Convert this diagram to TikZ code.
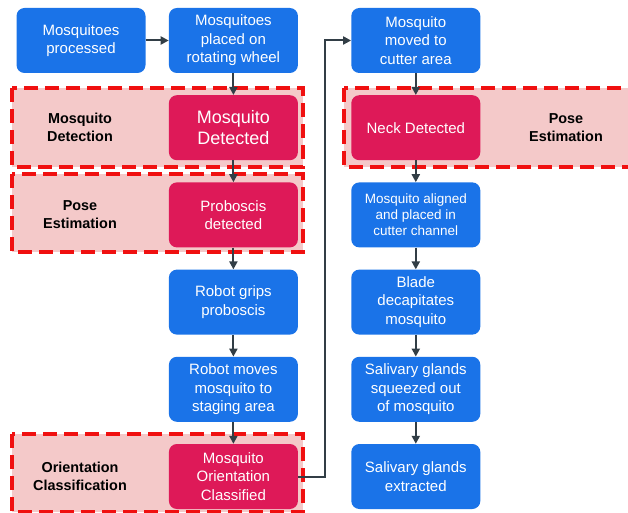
\documentclass[tikz,border=0pt]{standalone}
\usepackage{fontspec}
\setmainfont{Liberation Sans}
\usepackage{xcolor}
\usepackage{tikz}
\usetikzlibrary{arrows.meta,positioning,backgrounds}

\definecolor{stepblue}{RGB}{26,115,232}
\definecolor{detred}{RGB}{222,25,88}
\definecolor{zonepink}{RGB}{244,201,201}
\definecolor{zoneline}{RGB}{240,16,16}
\definecolor{arrowgray}{RGB}{50,62,70}

\begin{document}
\begin{tikzpicture}[
    x=1pt, y=-1pt,
    node distance=21.8pt,
    box/.style={rectangle, rounded corners=8pt, fill=stepblue, text=white, align=center,
        minimum width=129pt, minimum height=65pt, inner sep=2pt,
        font=\fontsize{15}{18.5}\selectfont},
    redbox/.style={box, fill=detred},
    zone/.style={fill=zonepink, draw=zoneline, line width=3.5pt, dash pattern=on 14pt off 7pt},
    lbl/.style={align=center, font=\bfseries\fontsize{14.4}{18}\selectfont},
    flow/.style={draw=arrowgray, line width=2pt, -{Triangle[length=8pt,width=8pt]}},
]
\useasboundingbox (0,0) rectangle (628,513);
\clip (0,0) rectangle (628,513);

% left column
\node[box] (proc) at (81,40.5) {Mosquitoes\\processed};
\node[box, right=23pt of proc] (wheel) {Mosquitoes\\placed on\\rotating wheel};
\node[redbox, below=of wheel, font=\fontsize{18}{21}\selectfont] (detect) {Mosquito\\Detected};
\node[redbox, below=of detect] (prob) {Proboscis\\detected};
\node[box, below=of prob] (grip) {Robot grips\\proboscis};
\node[box, below=of grip] (stage) {Robot moves\\mosquito to\\staging area};
\node[redbox, below=of stage] (orient) {Mosquito\\Orientation\\Classified};

% right column
\node[box, right=53pt of wheel] (cutter) {Mosquito\\moved to\\cutter area};
\node[redbox, below=of cutter] (neck) {Neck Detected};
\node[box, below=of neck, font=\fontsize{13.5}{16}\selectfont] (align) {Mosquito aligned\\and placed in\\cutter channel};
\node[box, below=of align] (blade) {Blade\\decapitates\\mosquito};
\node[box, below=of blade] (squeeze) {Salivary glands\\squeezed out\\of mosquito};
\node[box, below=of squeeze] (extract) {Salivary glands\\extracted};

% shaded zones
\begin{scope}[on background layer]
\draw[zone] (12,88) rectangle (303,167);
\draw[zone] (12,174) rectangle (303,252);
\draw[zone] (12,434) rectangle (303,512);
\draw[zone] (344,88) rectangle (645,167);
\end{scope}

\node[lbl] (detlbl) at (80,0 |- detect) {Mosquito\\Detection};
\node[lbl] (poselbl) at (80,0 |- prob) {Pose\\Estimation};
\node[lbl] (orilbl) at (80,0 |- orient) {Orientation\\Classification};
\node[lbl] (necklbl) at (566,0 |- neck) {Pose\\Estimation};

\coordinate (turn) at (325,0);

\draw[flow] (proc) -- (wheel);
\draw[flow] (wheel) -- (detect);
\draw[flow] (detect) -- (prob);
\draw[flow] (prob) -- (grip);
\draw[flow] (grip) -- (stage);
\draw[flow] (stage) -- (orient);
\draw[flow] (orient.east) -- (orient.east -| turn) |- (cutter.west);
\draw[flow] (cutter) -- (neck);
\draw[flow] (neck) -- (align);
\draw[flow] (align) -- (blade);
\draw[flow] (blade) -- (squeeze);
\draw[flow] (squeeze) -- (extract);
\end{tikzpicture}
\end{document}
